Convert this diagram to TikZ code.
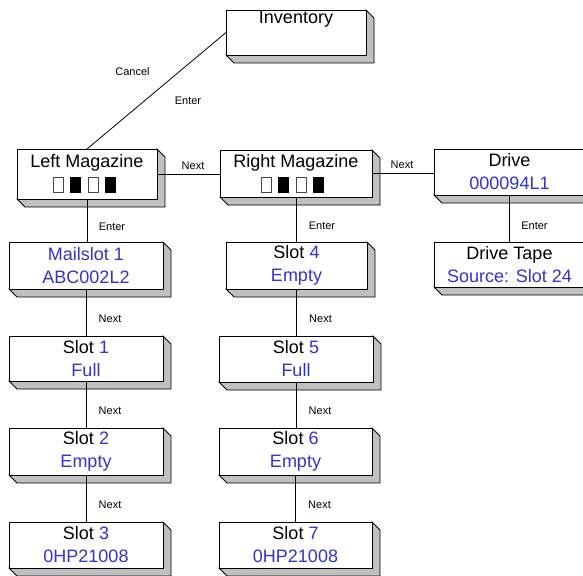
\documentclass[tikz,border=0pt]{standalone}
\usepackage{fontspec}
\setmainfont{Liberation Sans}
\usepackage{xcolor}
\definecolor{vb}{RGB}{51,51,204}
\definecolor{shgray}{RGB}{192,192,192}
\definecolor{sqedge}{RGB}{70,70,70}
\tikzset{
  frontbox/.style={draw=black, fill=white, line width=0.9pt, inner sep=0pt, outer sep=0pt,
    align=center, font=\fontsize{18}{23}\selectfont},
  shadowface/.style={draw=black, fill=shgray, line width=0.9pt, line join=miter},
  conn/.style={draw=black, line width=0.8pt},
  lbl/.style={font=\fontsize{11}{12}\selectfont, inner sep=0pt},
  sqwhite/.style={draw=sqedge, fill=white, line width=1pt},
  sqblack/.style={draw=black, fill=black, line width=1pt},
}
\newcommand\tdbox[6]{%
  \path[shadowface] (#2,#5) -- (#2+8,#5+8) -- (#4+8,#5+8) -- (#4+8,#3+8) -- (#4,#3) -- cycle;
  \node[frontbox, minimum width={#4-#2}, minimum height={#5-#3}] (#1) at ({(#2+#4)/2},{(#3+#5)/2}) {#6};
}
% four magazine squares, first left edge at #1, top at #2
\newcommand\magsquares[2]{%
  \path[sqwhite] (#1+0.5,#2+0.5) rectangle (#1+10.5,#2+15.5);
  \path[sqblack] (#1+17.5,#2+0.5) rectangle (#1+27.5,#2+15.5);
  \path[sqwhite] (#1+35,#2+0.5) rectangle (#1+45,#2+15.5);
  \path[sqblack] (#1+52.5,#2+0.5) rectangle (#1+62.5,#2+15.5);
}
\begin{document}
\begin{tikzpicture}[x=1pt,y=-1pt]
\useasboundingbox (0,0) rectangle (583,575);
\clip (0,0) rectangle (583,575);
\fill[white] (0,0) rectangle (583,575);

% boxes
\tdbox{inv}{226}{10}{366}{55}{Inventory\\\strut}
\tdbox{lm}{17}{149}{157}{199}{Left Magazine\\[3pt]\rule{0pt}{16pt}}
\tdbox{rm}{220}{150}{372}{197}{Right Magazine\\[3pt]\rule{0pt}{16pt}}
\tdbox{dr}{434}{149}{585}{195}{Drive\\\textcolor{vb}{000094L1}}
\tdbox{ms}{9}{242}{163}{289}{\textcolor{vb}{Mailslot 1}\\\textcolor{vb}{ABC002L2}}
\tdbox{s1}{9}{336}{163}{381}{Slot \textcolor{vb}{1}\\\textcolor{vb}{Full}}
\tdbox{s2}{9}{428}{163}{475}{Slot \textcolor{vb}{2}\\\textcolor{vb}{Empty}}
\tdbox{s3}{9}{522}{163}{568}{Slot \textcolor{vb}{3}\\\textcolor{vb}{0HP21008}}
\tdbox{s4}{226}{242}{367}{289}{Slot \textcolor{vb}{4}\\\textcolor{vb}{Empty}}
\tdbox{s5}{219}{336}{373}{382}{Slot \textcolor{vb}{5}\\\textcolor{vb}{Full}}
\tdbox{s6}{219}{428}{372}{475}{Slot \textcolor{vb}{6}\\\textcolor{vb}{Empty}}
\tdbox{s7}{219}{522}{372}{568}{Slot \textcolor{vb}{7}\\\textcolor{vb}{0HP21008}}
\tdbox{dt}{434}{242}{585}{287}{Drive Tape\\\textcolor{vb}{Source: Slot 24}}

\magsquares{53}{177}
\magsquares{261}{177}

% connectors
\draw[conn] (inv.west) -- node[lbl, midway, xshift=-24pt, yshift=19pt]{Cancel}
  node[lbl, midway, xshift=31.5pt, yshift=-10pt]{Enter} (lm.north);
\draw[conn] (lm.east) -- node[lbl, midway, xshift=4.5pt, yshift=8.5pt]{Next} (lm.east -| rm.west);
\draw[conn] (rm.east) -- node[lbl, midway, xshift=-1pt, yshift=8.5pt]{Next} (rm.east -| dr.west);

\draw[conn] (lm.south) -- node[lbl, midway, xshift=25pt, yshift=-6pt]{Enter} (lm.south |- ms.north);
\draw[conn] (ms.south) -- node[lbl, midway, xshift=24pt, yshift=-6pt]{Next} (ms.south |- s1.north);
\draw[conn] (s1.south) -- node[lbl, midway, xshift=24pt, yshift=-6pt]{Next} (s1.south |- s2.north);
\draw[conn] (s2.south) -- node[lbl, midway, xshift=24pt, yshift=-6pt]{Next} (s2.south |- s3.north);

\draw[conn] (rm.south) -- node[lbl, midway, xshift=26pt, yshift=-6pt]{Enter} (rm.south |- s4.north);
\draw[conn] (s4.south) -- node[lbl, midway, xshift=24pt, yshift=-6pt]{Next} (s4.south |- s5.north);
\draw[conn] (s5.south) -- node[lbl, midway, xshift=24pt, yshift=-6pt]{Next} (s5.south |- s6.north);
\draw[conn] (s6.south) -- node[lbl, midway, xshift=24pt, yshift=-6pt]{Next} (s6.south |- s7.north);

\draw[conn] (dr.south) -- node[lbl, midway, xshift=25pt, yshift=-7pt]{Enter} (dr.south |- dt.north);
\end{tikzpicture}
\end{document}
